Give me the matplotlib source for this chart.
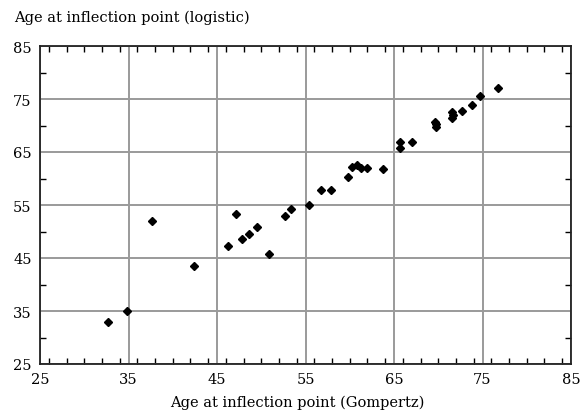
import matplotlib
matplotlib.use("Agg")
import matplotlib.pyplot as plt
from matplotlib.ticker import MultipleLocator

gompertz = [32.7, 34.8, 37.7, 42.4, 46.2, 47.2, 47.8, 48.6, 49.5, 50.9, 52.7, 53.4,
            55.4, 56.8, 57.9, 59.8, 60.3, 60.8, 61.3, 61.9, 63.8, 65.7, 65.7, 67.0,
            69.6, 69.7, 69.8, 71.6, 71.7, 71.6, 72.7, 73.8, 74.7, 76.8]
logistic = [33.0, 35.0, 52.0, 43.4, 47.2, 53.3, 48.6, 49.5, 50.9, 45.7, 52.9, 54.2,
            55.0, 57.9, 57.9, 60.2, 62.1, 62.5, 62.0, 62.0, 61.7, 66.9, 65.7, 66.9,
            70.7, 70.2, 69.8, 72.5, 72.0, 71.5, 72.7, 73.9, 75.6, 77.1]
ticks = [25, 35, 45, 55, 65, 75, 85]
xlabel = "Age at inflection point (Gompertz)"
ylabel = "Age at inflection point (logistic)"

fig = plt.figure(figsize=(5.83, 4.14), dpi=100)
ax = fig.add_axes([40/583, 1-365/414, (571-40)/583, (365-47)/414])
ax.plot(gompertz, logistic, linestyle="none", marker="D", markersize=3.8,
        color="black", zorder=3)
ax.set_xlim(25, 85)
ax.set_ylim(25, 85)
ax.set_xticks(ticks)
ax.set_yticks(ticks)
ax.xaxis.set_minor_locator(MultipleLocator(2))
ax.yaxis.set_minor_locator(MultipleLocator(5))
ax.grid(True, which="major", color="#9a9a9a", linewidth=1.4)
ax.set_axisbelow(True)
for s in ax.spines.values():
    s.set_linewidth(1.3)
    s.set_color("#222222")
font = dict(family="DejaVu Serif", size=10.5)
ax.tick_params(which="both", direction="in", top=True, right=True)
ax.tick_params(which="major", length=0, pad=6, labelsize=10.5)
ax.tick_params(which="minor", length=4, width=1)
for lab in ax.get_xticklabels() + ax.get_yticklabels():
    lab.set_family("DejaVu Serif")
ax.set_xticklabels([str(t) for t in ticks], fontdict=font)
ax.set_yticklabels([str(t) for t in ticks], fontdict=font)
fig.text(297/583, 1-403/414, xlabel, ha="center", va="center", **font)
fig.text(14/583, 1-18/414, ylabel, ha="left", va="center", **font)
fig.savefig("out.png", dpi=100)
